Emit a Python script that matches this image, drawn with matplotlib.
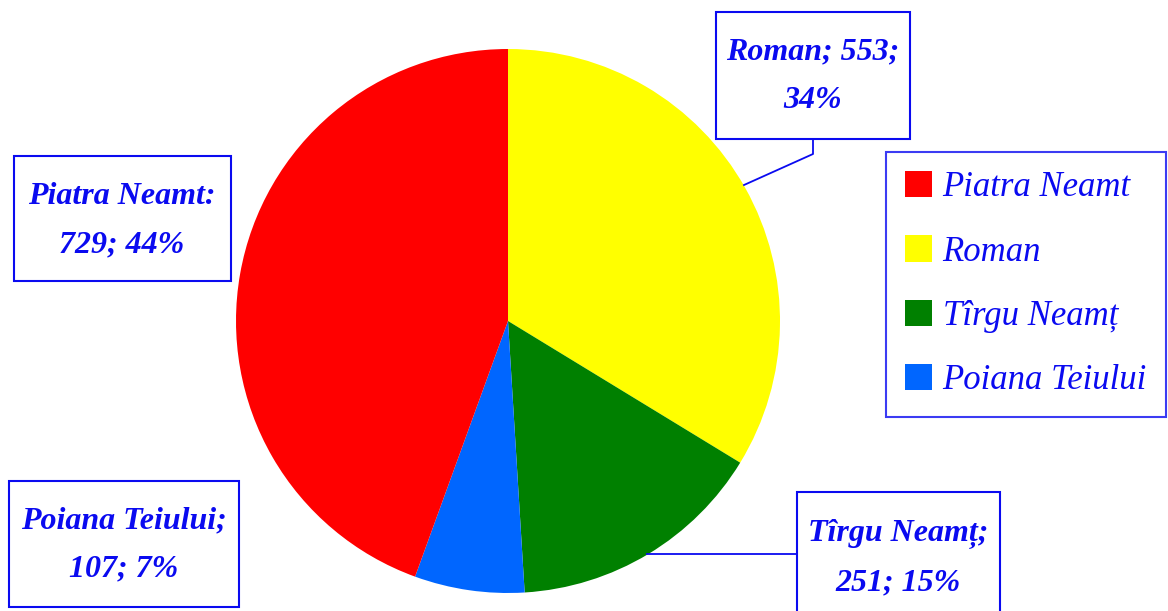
import matplotlib
matplotlib.use("Agg")
import matplotlib.pyplot as plt
from matplotlib.patches import Rectangle, Patch

W, H = 1168, 611

# data (legend order)
towns = ["Piatra Neamt", "Roman", "Tîrgu Neamț", "Poiana Teiului"]
counts = [729, 553, 251, 107]
percents = [44, 34, 15, 7]
colors = ["#FF0000", "#FFFF00", "#008000", "#0066FF"]
pie_order = [1, 2, 3, 0]  # drawn clockwise from 12 o'clock

label_texts = ["Piatra Neamt:\n729; 44%", "Roman; 553;\n34%",
               "Tîrgu Neamț;\n251; 15%", "Poiana Teiului;\n107; 7%"]

BLUE = "#0A0AF0"
FONT = "Liberation Serif"

fig = plt.figure(figsize=(W / 100, H / 100), dpi=100)
ax = fig.add_axes([0, 0, 1, 1])

def Y(y):
    return H - y

ax.pie([counts[i] for i in pie_order], colors=[colors[i] for i in pie_order],
       startangle=90, counterclock=False, center=(508, Y(321)), radius=272,
       wedgeprops=dict(linewidth=0))
ax.set_xlim(0, W)
ax.set_ylim(0, H)
ax.set_aspect("equal")
ax.axis("off")

# label boxes (x0, y0, x1, y1) in pixel coords from top
boxes = [(14, 156, 231, 281), (716, 12, 910, 139), (797, 492, 1000, 625), (9, 481, 239, 607)]
text_centers = [(122, 221), (813, 76), (898, 558), (124, 545)]
for i in range(4):
    x0, y0, x1, y1 = boxes[i]
    ax.add_patch(Rectangle((x0, Y(y1)), x1 - x0, y1 - y0, fill=False,
                           edgecolor=BLUE, linewidth=1.5, clip_on=False))
    tx, ty = text_centers[i]
    ax.text(tx, Y(ty), label_texts[i], ha="center", va="center", color=BLUE,
            fontsize=23, fontstyle="italic", fontweight="bold", family=FONT,
            linespacing=1.9)

# leader lines
ax.plot([813, 813, 744], [Y(139), Y(154), Y(185)], color=BLUE, linewidth=1.3)
ax.plot([797, 647], [Y(554), Y(554)], color=BLUE, linewidth=1.3)

handles = [Patch(facecolor=c, edgecolor="none") for c in colors]
leg = ax.legend(handles, towns, loc="upper left",
                bbox_to_anchor=(886 / W, 1 - 152 / H), borderaxespad=0,
                frameon=True, fancybox=False, prop=dict(family=FONT, style="italic", size=25),
                labelspacing=0.9, handlelength=0.78, handleheight=0.78,
                handletextpad=0.3, borderpad=0.55)
for t in leg.get_texts():
    t.set_color(BLUE)
leg.get_frame().set_edgecolor(BLUE)
leg.get_frame().set_linewidth(1.5)

fig.savefig("out.png", dpi=100)
